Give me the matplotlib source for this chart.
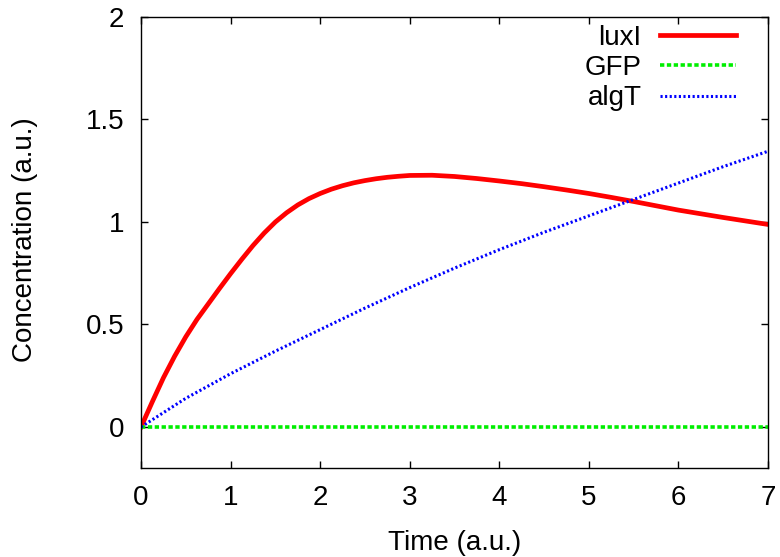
import matplotlib
matplotlib.use("Agg")
import matplotlib.pyplot as plt

# values
t_luxI = [0, 0.125, 0.25, 0.375, 0.5, 0.625, 0.75, 0.875, 1.0, 1.125, 1.25, 1.375,
          1.5, 1.625, 1.75, 1.875, 2.0, 2.125, 2.25, 2.375, 2.5, 2.625, 2.75, 2.875,
          3.0, 3.25, 3.5, 3.75, 4.0, 4.25, 4.5, 4.75, 5.0, 5.25, 5.5, 5.75, 6.0,
          6.25, 6.5, 6.75, 7.0]
luxI = [0, 0.122, 0.24, 0.345, 0.44, 0.525, 0.60, 0.675, 0.748, 0.818, 0.885, 0.946,
        1.0, 1.045, 1.083, 1.114, 1.139, 1.16, 1.177, 1.191, 1.202, 1.211, 1.218, 1.223,
        1.227, 1.228, 1.222, 1.212, 1.2, 1.187, 1.172, 1.156, 1.139, 1.12, 1.1, 1.079,
        1.058, 1.04, 1.022, 1.005, 0.988]

t_gfp = [0, 7]
gfp = [0, 0]

t_algT = [0, 0.5, 1, 1.5, 2, 2.5, 3, 3.5, 4, 4.5, 5, 5.5, 6, 6.5, 7]
algT = [0, 0.14, 0.26, 0.37, 0.475, 0.58, 0.68, 0.775, 0.865, 0.95, 1.03, 1.11, 1.19, 1.27, 1.345]

xticks = [0, 1, 2, 3, 4, 5, 6, 7]
yticks = [0, 0.5, 1, 1.5, 2]
ytick_labels = ["0", "0.5", "1", "1.5", "2"]

plt.rcParams['font.family'] = ['Liberation Sans', 'DejaVu Sans']
plt.rcParams['font.size'] = 20

fig = plt.figure(figsize=(7.8, 5.57), dpi=100)
ax = fig.add_axes([0.1808, 0.1598, 0.9846 - 0.1808, 0.9695 - 0.1598])

ax.plot(t_luxI, luxI, color="#ff0000", lw=3.4, label="luxI", solid_joinstyle="round")
ax.plot(t_gfp, gfp, color="#00ee00", lw=2.6, dashes=(1.2, 0.7), label="GFP")
ax.plot(t_algT, algT, color="#0000ff", lw=2.2, dashes=(0.7, 0.8), label="algT")

ax.set_xlim(0, 7)
ax.set_ylim(-0.2, 2)
ax.set_xticks(xticks)
ax.set_yticks(yticks)
ax.set_yticklabels(ytick_labels)
ax.tick_params(direction="in", length=5, width=1, top=True, right=True)
ax.tick_params(axis="x", pad=12)
ax.tick_params(axis="y", pad=12)
for s in ax.spines.values():
    s.set_linewidth(1.0)

ax.set_xlabel("Time (a.u.)")
ax.set_ylabel("Concentration (a.u.)")
ax.xaxis.set_label_coords(455 / 780, 1 - 543 / 557, transform=fig.transFigure)
ax.yaxis.set_label_coords(25 / 780, 1 - 240 / 557, transform=fig.transFigure)
ax.xaxis.label.set_va("center")
ax.yaxis.label.set_va("center")

ax.legend(loc="upper right", bbox_to_anchor=(736 / 780, 1 - 25 / 557),
          bbox_transform=fig.transFigure, frameon=False, markerfirst=False,
          handlelength=2.75, labelspacing=0.15, borderpad=0, borderaxespad=0,
          handletextpad=0.65)

fig.savefig("out.png", dpi=100)
